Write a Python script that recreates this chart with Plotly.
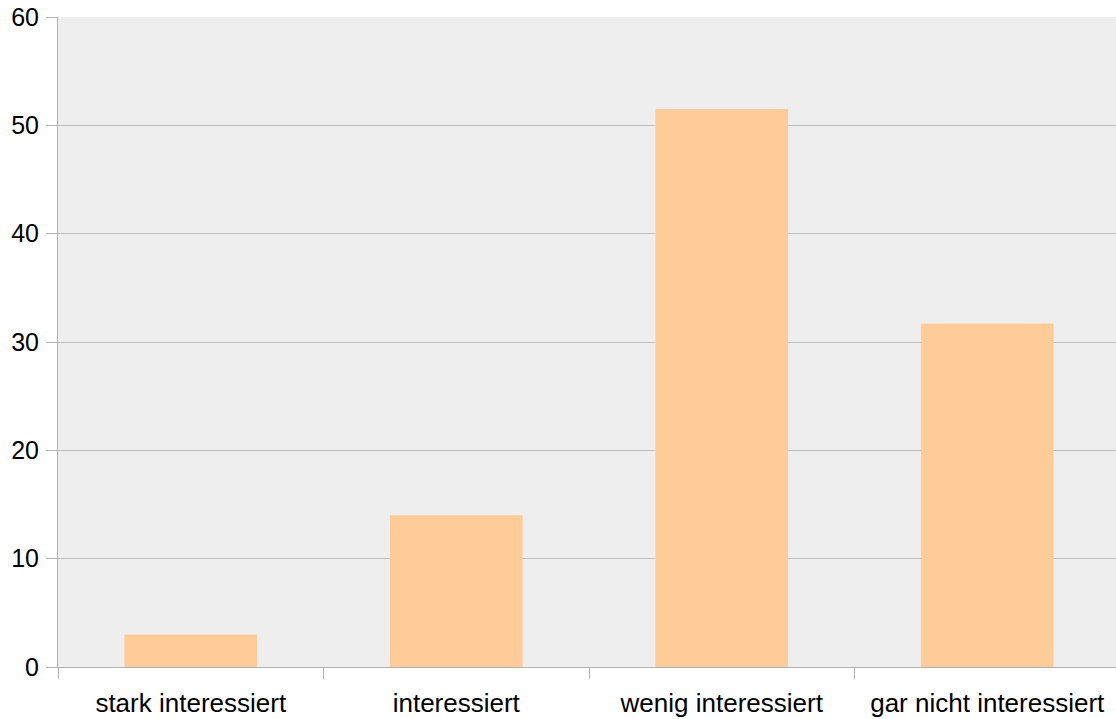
import plotly.graph_objects as go

categories = ["stark interessiert", "interessiert", "wenig interessiert", "gar nicht interessiert"]
values = [3, 14, 51.5, 31.7]
y_ticks = [0, 10, 20, 30, 40, 50, 60]

fig = go.Figure(go.Bar(x=categories, y=values, marker=dict(color="#ffcc99", line=dict(width=0))))

fig.update_layout(
    width=1120, height=719,
    margin=dict(l=58, r=0, t=17, b=52, autoexpand=False),
    paper_bgcolor="white",
    plot_bgcolor="#eeeeee",
    bargap=0.5,
    showlegend=False,
    font=dict(family="Liberation Sans, Arial, sans-serif", size=26, color="black"),
)
fig.update_xaxes(
    showline=True, linecolor="#b3b3b3", linewidth=1, automargin=False,
    ticks="outside", tickson="boundaries", ticklen=11, tickcolor="#b3b3b3",
    showgrid=False, tickfont=dict(size=26), ticklabelstandoff=13,
)
fig.update_yaxes(
    range=[0, 60], tickvals=y_ticks, showline=True, linecolor="#b3b3b3", linewidth=1,
    automargin=False,
    ticks="outside", ticklen=11, tickcolor="#b3b3b3",
    showgrid=True, gridcolor="#bdbdbd", gridwidth=1, zeroline=False,
    tickfont=dict(size=25), ticklabelstandoff=2,
)

fig.write_html(
    "out.html",
    config={"displayModeBar": False},
    post_script="document.body.style.margin='0';document.body.style.overflow='hidden';",
)
